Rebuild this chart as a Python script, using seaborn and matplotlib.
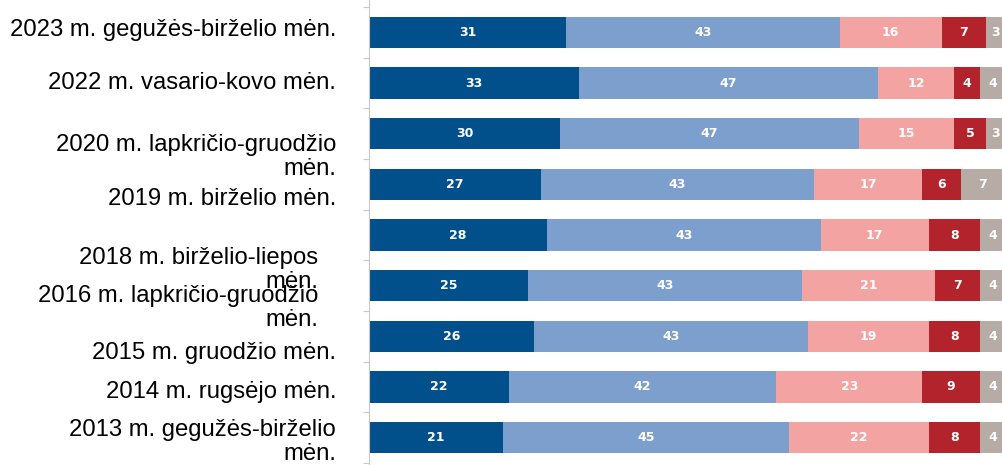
import numpy as np
import pandas as pd
import matplotlib
matplotlib.use("Agg")
import matplotlib.pyplot as plt
import seaborn as sns

sns.set_style("white")
plt.rcParams['font.family'] = ['Liberation Sans', 'DejaVu Sans']

periods = [
    "2023 m. gegužės-birželio mėn.",
    "2022 m. vasario-kovo mėn.",
    "2020 m. lapkričio-gruodžio\nmėn.",
    "2019 m. birželio mėn.",
    "2018 m. birželio-liepos\nmėn.",
    "2016 m. lapkričio-gruodžio\nmėn.",
    "2015 m. gruodžio mėn.",
    "2014 m. rugsėjo mėn.",
    "2013 m. gegužės-birželio\nmėn.",
]
seg1 = [31, 33, 30, 27, 28, 25, 26, 22, 21]
seg2 = [43, 47, 47, 43, 43, 43, 43, 42, 45]
seg3 = [16, 12, 15, 17, 17, 21, 19, 23, 22]
seg4 = [7, 4, 5, 6, 8, 7, 8, 9, 8]
seg5 = [3, 4, 3, 7, 4, 4, 4, 4, 4]
colors = ["#02508b", "#7d9fcd", "#f4a3a3", "#b2232b", "#b7aba5"]

# label placement quirks of the original (row offset, extra pad)
label_dy = [-0.05, 0, 0.46, 0.29, 0.69, 0.44, 0.33, 0.09, 0.09]
label_pad = [33, 33, 33, 33, 51, 51, 33, 33, 33]

segments = [seg1, seg2, seg3, seg4, seg5]
df = pd.DataFrame({"period": periods})
cum = np.zeros(len(periods))
cums = []
for s in segments:
    cum = cum + np.array(s)
    cums.append(cum.copy())

fig = plt.figure(figsize=(10.02, 4.65), dpi=100)
ax = fig.add_axes([369 / 1002, 0, 633 / 1002, 1])

# stacked bars: draw cumulative totals from largest to smallest
for i in reversed(range(len(segments))):
    df["value"] = cums[i]
    sns.barplot(data=df, x="value", y="period", orient="h", color=colors[i],
                saturation=1, width=0.62, linewidth=0, ax=ax)

for i in range(len(segments)):
    vals = np.array(segments[i])
    for r, v in enumerate(vals):
        ax.text(cums[i][r] - v / 2, r, str(v), ha="center", va="center",
                color="white", fontsize=9, fontweight="bold",
                family="DejaVu Sans")

ax.set_xlim(0, 99.5)
ax.set_ylim(8.54, -0.64)
ax.set_xlabel("")
ax.set_ylabel("")
ax.set_xticks([])
ax.set_yticks(np.arange(-0.5, 9, 1))
ax.set_yticklabels([])
ax.tick_params(axis="y", length=4, width=0.8, color="#c8c8c8", left=True)
for side in ["top", "right", "bottom"]:
    ax.spines[side].set_visible(False)
ax.spines["left"].set_color("#c8c8c8")
ax.spines["left"].set_linewidth(0.8)

for r, lab in enumerate(periods):
    ax.annotate(lab, xy=(0, r + label_dy[r]), xycoords=ax.get_yaxis_transform(),
                xytext=(-label_pad[r], 0), textcoords="offset pixels",
                ha="right", va="center", multialignment="right",
                fontsize=17.2, color="black", linespacing=1.15,
                annotation_clip=False)

fig.savefig("out.png", dpi=100)
